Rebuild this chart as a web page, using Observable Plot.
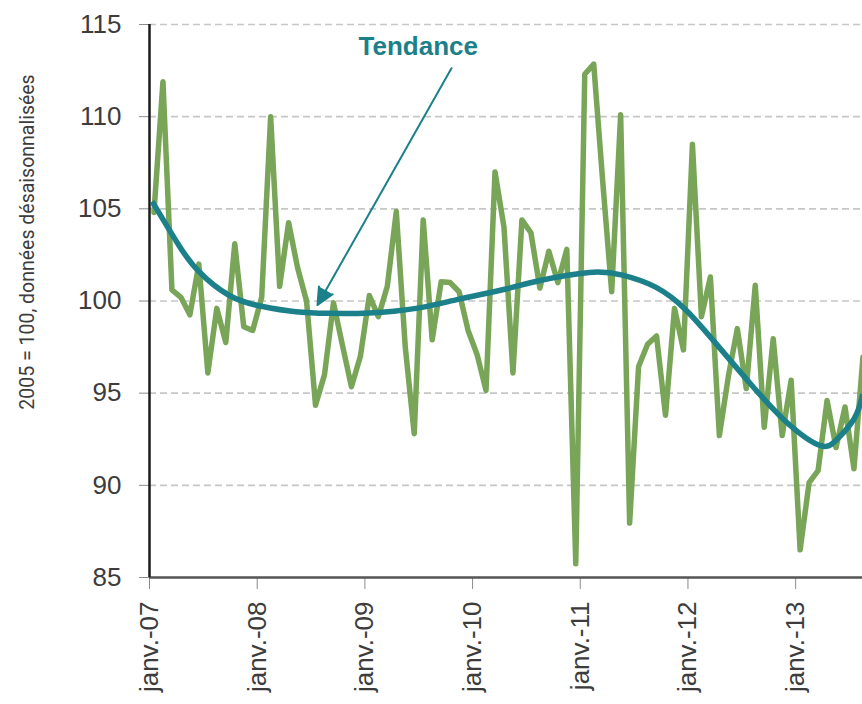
<!DOCTYPE html>
<html>
<head>
<meta charset="utf-8">
<script src="https://cdn.jsdelivr.net/npm/d3@7"></script>
<script src="https://cdn.jsdelivr.net/npm/@observablehq/plot@0.6"></script>
<style>
  html, body { margin: 0; padding: 0; background: #ffffff; }
  #chart { width: 862px; height: 704px; }
</style>
</head>
<body>
<div id="chart"></div>
<script>
// Monthly index, janv. 2007 -> août 2013 (2005 = 100, CVS)
const monthlyIndex = [
  104.8, 111.9, 100.6, 100.2, 99.25, 102.0, 96.1, 99.6, 97.75, 103.1, 98.6, 98.4,
  100.2, 110.0, 100.8, 104.25, 101.8, 100.0, 94.35, 96.0, 99.9, 97.6, 95.35, 97.0,
  100.3, 99.15, 100.8, 104.85, 97.5, 92.8, 104.4, 97.9, 101.05, 101.0, 100.5, 98.4,
  97.1, 95.15, 107.0, 104.0, 96.1, 104.4, 103.7, 100.7, 102.7, 101.0, 102.8, 85.75,
  112.3, 112.85, 106.5, 100.5, 110.1, 87.95, 96.45, 97.65, 98.1, 93.8, 99.6, 97.35,
  108.5, 99.15, 101.3, 92.7, 95.9, 98.5, 95.25, 100.85, 93.15, 97.95, 92.7, 95.7,
  86.5, 90.15, 90.8, 94.6, 92.05, 94.25, 90.9, 96.95
];

// Trend curve ("Tendance"), read at selected months since janv. 2007
const trendMonths = [0.3, 3.3, 5.5, 8.9, 12.6, 16.3, 20, 24.5, 29.7, 34.5, 39.7, 43.4,
  49, 52.7, 56.4, 59.8, 63.1, 66.8, 70.6, 74.5, 76.5, 78.5, 79.5];
const trendValues = [105.4, 103.0, 101.6, 100.3, 99.7, 99.42, 99.33, 99.35, 99.6, 100.1, 100.65, 101.1,
  101.55, 101.4, 100.75, 99.5, 97.7, 95.6, 93.6, 92.2, 92.45, 93.6, 94.95];

const yTicks = [85, 90, 95, 100, 105, 110, 115];
const gridValues = [90, 95, 100, 105, 110, 115];
const xTickMonths = [0, 12, 24, 36, 48, 60, 72];
const xTickLabels = ["janv.-07", "janv.-08", "janv.-09", "janv.-10", "janv.-11", "janv.-12", "janv.-13"];
const yLabel = "2005 = 100, données désaisonnalisées";

// Annotation (months since janv. 2007, index value)
const annotationLabel = ["Tendance"];
const annotationLabelPos = [[29.95, 113.8]];
const arrowStart = [[33.65, 112.63]];
const arrowEnd = [[18.72, 99.78]];

const green = "#78a557";
const teal = "#1b8089";

const series = monthlyIndex.map((v, i) => ({m: i + 0.5, v}));
const trend = trendMonths.map((m, i) => ({m, v: trendValues[i]}));
const arrows = arrowStart.map((s, i) => ({x1: s[0], y1: s[1], x2: arrowEnd[i][0], y2: arrowEnd[i][1]}));
const labels = annotationLabel.map((t, i) => ({t, x: annotationLabelPos[i][0], y: annotationLabelPos[i][1]}));

const chart = Plot.plot({
  width: 862,
  height: 704,
  marginTop: 24,
  marginBottom: 127,
  marginLeft: 149,
  marginRight: 0,
  style: {fontFamily: "'Liberation Sans', Arial, sans-serif", background: "#ffffff", color: "#404040"},
  x: {domain: [0, 79.45]},
  y: {domain: [85, 115]},
  marks: [
    Plot.gridY(gridValues, {stroke: "#c6c6c6", strokeOpacity: 1, strokeWidth: 1.6, strokeDasharray: "7,4"}),
    Plot.axisY(yTicks, {
      tickSize: 10, tickPadding: 18, fontSize: 26, stroke: "#8c8c8c", fill: "#3c3c3c", label: null
    }),
    Plot.axisX(xTickMonths, {
      tickSize: 12, tickPadding: 12, tickRotate: -90, fontSize: 26,
      tickFormat: d => xTickLabels[xTickMonths.indexOf(d)],
      stroke: "#8c8c8c", fill: "#3c3c3c", label: null
    }),
    Plot.ruleY([85], {stroke: "#555555", strokeWidth: 2.5}),
    Plot.ruleX([0], {stroke: "#1a1a1a", strokeWidth: 2.5}),
    Plot.line(series, {x: "m", y: "v", stroke: green, strokeWidth: 5.5, strokeLinejoin: "round", strokeLinecap: "round"}),
    Plot.line(trend, {x: "m", y: "v", curve: "natural", stroke: teal, strokeWidth: 5.5, strokeLinecap: "butt"}),
    Plot.arrow(arrows, {x1: "x1", y1: "y1", x2: "x2", y2: "y2", stroke: teal, fill: teal, strokeWidth: 2, headLength: 14, headAngle: 50}),
    Plot.text(labels, {x: "x", y: "y", text: "t", fill: teal, fontSize: 26, fontWeight: "bold"})
  ]
});

const svg = d3.select(chart);
svg.append("text")
  .attr("transform", "translate(29,242) rotate(-90)")
  .attr("text-anchor", "middle")
  .attr("dominant-baseline", "middle")
  .attr("font-family", "Roboto, 'Liberation Sans', sans-serif")
  .attr("font-size", 19.5)
  .attr("fill", "#3c3c3c")
  .text(yLabel);

document.getElementById("chart").appendChild(chart);
</script>
</body>
</html>
